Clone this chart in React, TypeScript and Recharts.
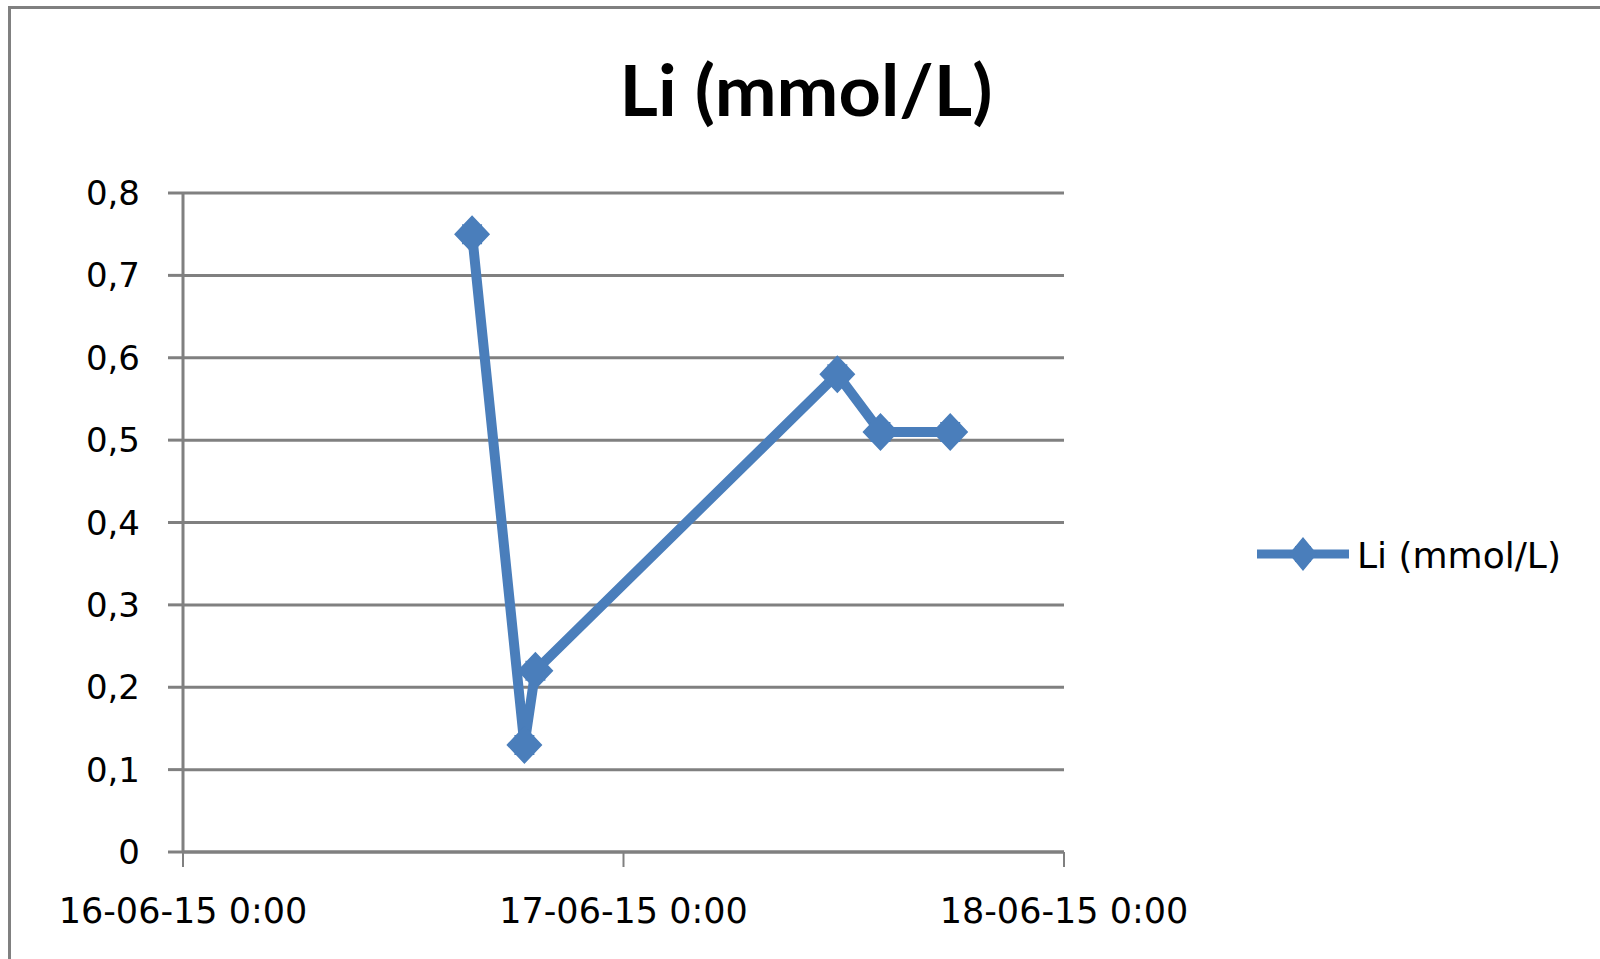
import { LineChart, Line, XAxis, YAxis, CartesianGrid, Legend } from 'recharts';

// hours since 16-06-15 0:00
const sampleHours = [15.75, 18.6, 19.2, 35.65, 38, 41.8];
const liValues = [0.75, 0.13, 0.22, 0.58, 0.51, 0.51];

const timeTicks = [0, 24, 48];
const timeLabels = ['16-06-15 0:00', '17-06-15 0:00', '18-06-15 0:00'];
const yTicks = [0, 0.1, 0.2, 0.3, 0.4, 0.5, 0.6, 0.7, 0.8];

const seriesName = 'Li (mmol/L)';
const blue = '#4a7ebb';
const gray = '#808080';

const data = sampleHours.map((t, i) => ({ t, li: liValues[i] }));

const Diamond = (props: any) => {
  const { cx, cy, index } = props;
  if (cx == null || cy == null) return null;
  const d = `M${cx} ${cy - 19} L${cx + 18} ${cy} L${cx} ${cy + 19} L${cx - 18} ${cy} Z M${cx - 10} ${cy - 10} h20 v20 h-20 Z`;
  return <path key={`dot-${index}`} d={d} fill={blue} />;
};

const LegendContent = () => (
  <div style={{ display: 'flex', alignItems: 'flex-start' }}>
    <svg width={92} height={40}>
      <line x1={0} y1={18} x2={92} y2={18} stroke={blue} strokeWidth={9} />
      <path d="M46 1 L60 18 L46 35 L32 18 Z M38 10 h16 v16 h-16 Z" fill={blue} />
    </svg>
    <span
      style={{
        marginLeft: 8,
        fontFamily: 'DejaVu Sans',
        fontSize: 36,
        lineHeight: '40px',
        color: '#000',
        whiteSpace: 'nowrap',
      }}
    >
      {seriesName}
    </span>
  </div>
);

export default function App() {
  return (
    <div
      style={{
        position: 'absolute',
        left: 0,
        top: 0,
        width: 1600,
        height: 959,
        background: '#fff',
        overflow: 'hidden',
      }}
    >
      <div
        style={{
          position: 'absolute',
          left: 8,
          top: 6,
          width: 1700,
          height: 1100,
          borderLeft: `3px solid ${gray}`,
          borderTop: `3px solid ${gray}`,
        }}
      />
      <LineChart
        width={1600}
        height={959}
        data={data}
        margin={{ top: 193, right: 536, left: 83, bottom: 27 }}
        style={{ position: 'absolute', left: 0, top: 0 }}
      >
        <CartesianGrid vertical={false} stroke={gray} strokeWidth={3} />
        <XAxis
          dataKey="t"
          type="number"
          domain={[0, 48]}
          ticks={timeTicks}
          interval={0}
          tickFormatter={(v: number) => timeLabels[timeTicks.indexOf(v)]}
          axisLine={{ stroke: gray, strokeWidth: 3 }}
          tickLine={{ stroke: gray, strokeWidth: 2 }}
          tickSize={15}
          tickMargin={31}
          tick={{ fill: '#000', fontSize: 35, fontFamily: 'DejaVu Sans' }}
          height={80}
        />
        <YAxis
          type="number"
          domain={[0, 0.8]}
          ticks={yTicks}
          interval={0}
          tickFormatter={(v: number) => (v === 0 ? '0' : v.toFixed(1).replace('.', ','))}
          axisLine={{ stroke: gray, strokeWidth: 3 }}
          tickLine={{ stroke: gray, strokeWidth: 3 }}
          tickSize={15}
          tickMargin={28}
          tick={{ fill: '#000', fontSize: 34, fontFamily: 'DejaVu Sans' }}
          width={100}
        />
        <Legend
          layout="horizontal"
          verticalAlign="middle"
          align="center"
          content={LegendContent}
          wrapperStyle={{ left: 1257, top: 536, width: 330 }}
        />
        <Line
          type="linear"
          dataKey="li"
          name={seriesName}
          stroke={blue}
          strokeWidth={10}
          strokeLinejoin="round"
          dot={Diamond}
          activeDot={false}
          isAnimationActive={false}
        />
      </LineChart>
      <svg
        width={1600}
        height={140}
        style={{ position: 'absolute', left: 0, top: 0, pointerEvents: 'none' }}
      >
        <text
          x={806}
          y={116}
          textAnchor="middle"
          fontFamily="Lato, 'Noto Sans', sans-serif"
          fontWeight="bold"
          fontSize={71}
          textLength={373}
          lengthAdjust="spacingAndGlyphs"
          fill="#000"
        >
          {seriesName}
        </text>
      </svg>
    </div>
  );
}
